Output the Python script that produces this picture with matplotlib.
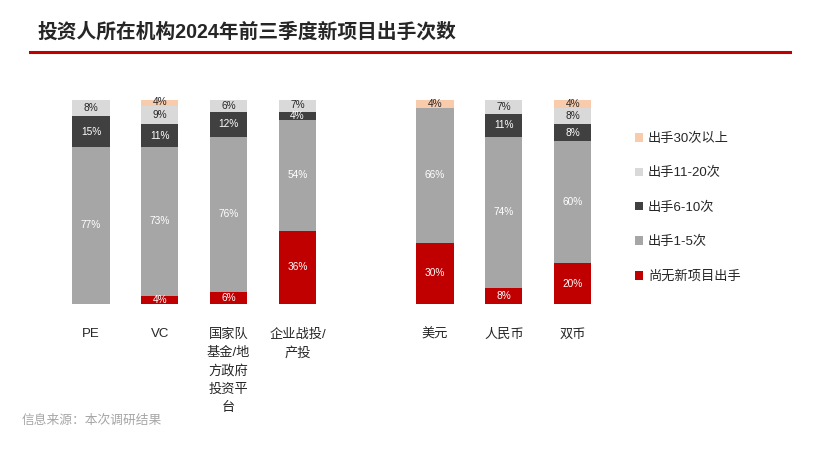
import matplotlib
matplotlib.use("Agg")
import matplotlib.pyplot as plt
from matplotlib.patches import Patch
from matplotlib.lines import Line2D

plt.rcParams['font.family'] = ['Liberation Sans', 'Noto Sans CJK SC', 'DejaVu Sans']

categories = ["PE", "VC", "国家队\n基金/地\n方政府\n投资平\n台", "企业战投/\n产投", "美元", "人民币", "双币"]
positions = [0, 1, 2, 3, 5, 6, 7]
none_new = [0, 4, 6, 36, 30, 8, 20]
c1_5 = [77, 73, 76, 54, 66, 74, 60]
c6_10 = [15, 11, 12, 4, 0, 11, 8]
c11_20 = [8, 9, 6, 7, 0, 7, 8]
c30 = [0, 4, 0, 0, 4, 0, 4]

series = [
    ("尚无新项目出手", none_new, "#C00000", "white"),
    ("出手1-5次", c1_5, "#A6A6A6", "white"),
    ("出手6-10次", c6_10, "#404040", "white"),
    ("出手11-20次", c11_20, "#D9D9D9", "#262626"),
    ("出手30次以上", c30, "#F8CBAD", "#262626"),
]

fig = plt.figure(figsize=(8.3, 4.49), dpi=100)
ax = fig.add_axes([49.7/830, 1-304/449, (614-49.7)/830, 204/449])

bottoms = [0]*len(positions)
for name, vals, color, tc in series:
    ax.bar(positions, vals, bottom=bottoms, width=0.54, color=color, label=name, linewidth=0)
    for x, b, v in zip(positions, bottoms, vals):
        if v > 0:
            ax.text(x, b + v/2, f"{v}%", ha="center", va="center", fontsize=7.3, color=tc)
    bottoms = [b + v for b, v in zip(bottoms, vals)]

ax.set_xlim(-0.6, 7.6)
ax.set_ylim(0, 100)
ax.axis("off")

for x, lab in zip(positions, categories):
    ax.text(x, -12, lab, ha="center", va="top", fontsize=9.5, color="#262626", linespacing=1.65)

# legend (top-to-bottom: 30+, 11-20, 6-10, 1-5, none)
handles = [Patch(facecolor=c, edgecolor="none") for _, _, c, _ in series][::-1]
labels = [n for n, _, _, _ in series][::-1]
fig.legend(handles, labels, loc="upper left", bbox_to_anchor=(623/830, 1-121/449),
           frameon=False, fontsize=9.5, labelspacing=1.68, handlelength=0.6, handleheight=0.6,
           handletextpad=0.4, labelcolor="#262626")

fig.text(38/830, 1-32/449, "投资人所在机构2024年前三季度新项目出手次数", fontsize=14.2, fontweight="bold",
         color="#262626", ha="left", va="center")
fig.add_artist(Line2D([30/830, 790/830], [1-52/449, 1-52/449], color="#C00000", linewidth=2.2))
fig.text(22/830, 1-421/449, "信息来源：本次调研结果", fontsize=9.2, color="#A6A6A6", ha="left", va="center")

fig.savefig("out.png", dpi=100)
